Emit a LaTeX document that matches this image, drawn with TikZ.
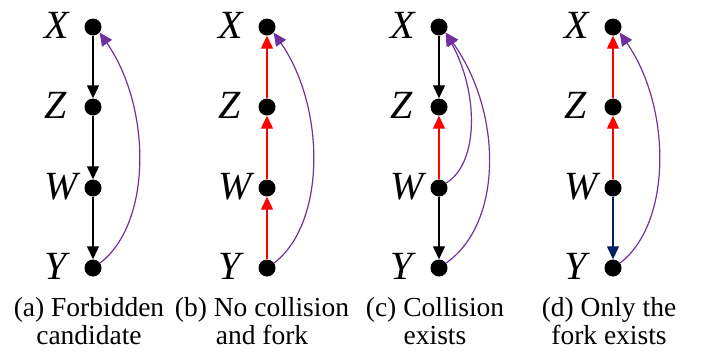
\documentclass[tikz,border=0pt]{standalone}
\usepackage{fontspec}
\setmainfont{Liberation Serif}
\usetikzlibrary{arrows.meta}
\definecolor{arcpurple}{RGB}{112,48,160}
\definecolor{navy}{RGB}{0,32,96}
\definecolor{pred}{RGB}{255,0,0}
\begin{document}
\begin{tikzpicture}[x=1pt,y=-1pt,
  dot/.style={circle,fill=black,inner sep=0pt,minimum size=17pt},
  vlab/.style={anchor=base west,inner sep=0pt,font=\fontsize{40}{42}\selectfont\itshape},
  captext/.style={anchor=base,inner sep=0pt,align=center,font=\fontsize{27.5}{28}\selectfont},
  conn/.style={line width=1.3pt,-{Triangle[length=13pt,width=12pt]}},
  bk/.style={conn,black},
  rd/.style={conn,pred},
  nv/.style={conn,navy},
  pu/.style={line width=1.2pt,arcpurple,-{Triangle[length=13pt,width=12pt]}}
]
\useasboundingbox (0,0) rectangle (709,354);
\foreach \p/\x in {a/93,b/267,c/439,d/613}{
  \node[dot] (\p X) at (\x,27) {};
  \node[dot] (\p Z) at (\x,107) {};
  \node[dot] (\p W) at (\x,188) {};
  \node[dot] (\p Y) at (\x,268) {};
  \node[vlab] (\p Xl) at (\x-49,38) {X};
  \node[vlab] (\p Zl) at (\x-49,118) {Z};
  \node[vlab] (\p Wl) at (\x-49,199) {W};
  \node[vlab] (\p Yl) at (\x-49,279) {Y};
}
% (a)
\draw[bk] (aX) -- (aZ);
\draw[bk] (aZ) -- (aW);
\draw[bk] (aW) -- (aY);
\draw[pu] (aY.35) .. controls +(52,-40) and +(52,75) .. (aX.-40);
% (b)
\draw[rd] (bY) -- (bW);
\draw[rd] (bW) -- (bZ);
\draw[rd] (bZ) -- (bX);
\draw[pu] (bY.35) .. controls +(52,-40) and +(52,75) .. (bX.-40);
% (c)
\draw[bk] (cX) -- (cZ);
\draw[rd] (cW) -- (cZ);
\draw[bk] (cW) -- (cY);
\draw[pu] (cW.35) .. controls +(33,-20) and +(33,60) .. (cX.-40);
\draw[pu] (cY.35) .. controls +(57,-40) and +(57,80) .. (cX.-40);
% (d)
\draw[rd] (dW) -- (dZ);
\draw[rd] (dZ) -- (dX);
\draw[nv] (dW) -- (dY);
\draw[pu] (dY.35) .. controls +(52,-40) and +(52,75) .. (dX.-40);
% captions
\node[captext] (capa) at (89,344) {(a) Forbidden\\candidate};
\node[captext] (capb) at (262,344) {(b) No collision\\and fork};
\node[captext] (capc) at (435,344) {(c) Collision\\exists};
\node[captext] (capd) at (609,344) {(d) Only the\\fork exists};
\end{tikzpicture}
\end{document}
